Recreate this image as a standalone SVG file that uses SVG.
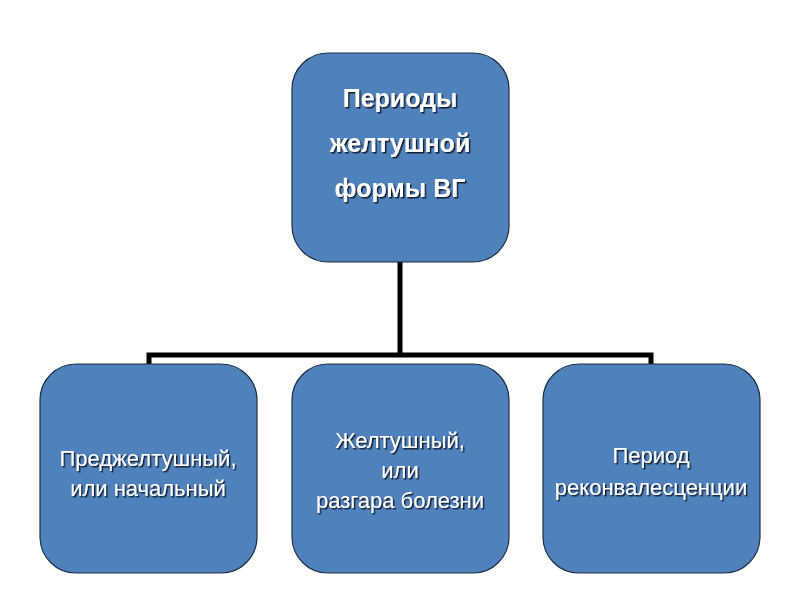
<svg xmlns="http://www.w3.org/2000/svg" width="800" height="600" viewBox="0 0 800 600">
<defs>
<filter id="ts" x="-10%" y="-20%" width="130%" height="160%">
<feDropShadow dx="1.5" dy="1.5" stdDeviation="0.6" flood-color="#000" flood-opacity="0.75"/>
</filter>
<style>
.box{fill:#4f81bd;stroke:#1f2f45;stroke-width:1.2}
.t{fill:#fff;font-family:"Liberation Sans",Arial,sans-serif;text-anchor:middle;filter:url(#ts)}
.tb{font-size:25px;font-weight:bold}
.tr{font-size:22px}
.c{fill:none;stroke:#000;stroke-width:5}
</style>
</defs>
<rect width="800" height="600" fill="#fff"/>
<g id="connectors">
<path class="c" d="M400 262 V355 M149 364 V355 H651 V364"/>
</g>
<g id="top">
<rect class="box" x="292" y="53" width="217" height="209" rx="36"/>
<text class="t tb" x="400" y="107">Периоды</text>
<text class="t tb" x="400" y="152">желтушной</text>
<text class="t tb" x="400" y="197">формы ВГ</text>
</g>
<g id="n1">
<rect class="box" x="40" y="364" width="217" height="209" rx="36"/>
<text class="t tr" x="148" y="466">Преджелтушный,</text>
<text class="t tr" x="148" y="496">или начальный</text>
</g>
<g id="n2">
<rect class="box" x="292" y="364" width="217" height="209" rx="36"/>
<text class="t tr" x="400" y="448">Желтушный,</text>
<text class="t tr" x="400" y="478">или</text>
<text class="t tr" x="400" y="508">разгара болезни</text>
</g>
<g id="n3">
<rect class="box" x="543" y="364" width="217" height="209" rx="36"/>
<text class="t tr" x="651" y="463">Период</text>
<text class="t tr" x="651" y="495">реконвалесценции</text>
</g>
</svg>
